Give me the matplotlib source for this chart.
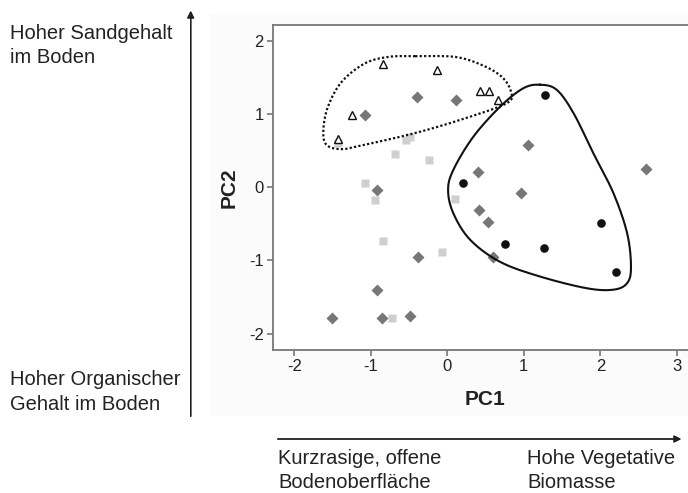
import numpy as np
import matplotlib.pyplot as plt
from matplotlib.patches import Rectangle

plt.rcParams['font.family'] = ['Liberation Sans', 'DejaVu Sans']
plt.rcParams['axes.unicode_minus'] = False

# PCA scores per site group
tri_x = [-0.84, -0.13, 0.43, 0.54, 0.66, -1.24, -1.43]
tri_y = [1.68, 1.60, 1.32, 1.31, 1.19, 0.99, 0.66]

dia_x = [-0.40, 0.11, -1.07, 1.05, 0.40, 2.60, 0.96, -0.92, 0.41, 0.53,
         0.60, -0.38, -0.92, -1.51, -0.85, -0.49]
dia_y = [1.23, 1.19, 0.99, 0.57, 0.21, 0.25, -0.08, -0.04, -0.31, -0.48,
         -0.95, -0.95, -1.40, -1.79, -1.79, -1.76]

circ_x = [1.27, 0.20, 0.75, 1.26, 2.01, 2.21]
circ_y = [1.26, 0.06, -0.78, -0.83, -0.49, -1.16]

sq_x = [-1.43, -0.54, -0.49, -0.68, -0.24, -1.07, -0.95, 0.10, -0.84, -0.07, -0.72]
sq_y = [0.60, 0.65, 0.68, 0.45, 0.37, 0.06, -0.17, -0.16, -0.74, -0.88, -1.79]

# hand-drawn group outlines (control points, data units)
sand_outline_x = [-0.42, 0.10, 0.45, 0.71, 0.83, 0.78, 0.23, -0.42, -1.08, -1.38,
                  -1.58, -1.62, -1.56, -1.38, -1.08, -0.77]
sand_outline_y = [1.79, 1.78, 1.67, 1.51, 1.31, 1.15, 0.94, 0.74, 0.58, 0.52,
                  0.58, 0.78, 1.10, 1.44, 1.69, 1.78]

bio_outline_x = [1.21, 1.43, 1.65, 1.91, 2.17, 2.35, 2.40, 2.35, 2.17, 1.82, 1.21,
                 0.69, 0.30, 0.08, 0.01, 0.08, 0.34, 0.69, 0.99]
bio_outline_y = [1.40, 1.33, 1.01, 0.46, -0.08, -0.63, -1.09, -1.31, -1.40, -1.38,
                 -1.22, -1.02, -0.72, -0.36, -0.04, 0.24, 0.69, 1.10, 1.35]


def closed_spline(xs, ys, n=30):
    # closed Catmull-Rom curve through the control points
    p = np.column_stack([xs, ys])
    m = len(p)
    t = np.linspace(0, 1, n, endpoint=False)[:, None]
    segs = []
    for i in range(m):
        p0, p1, p2, p3 = p[i - 1], p[i], p[(i + 1) % m], p[(i + 2) % m]
        segs.append(0.5 * (2 * p1 + (-p0 + p2) * t
                           + (2 * p0 - 5 * p1 + 4 * p2 - p3) * t ** 2
                           + (-p0 + 3 * p1 - 3 * p2 + p3) * t ** 3))
    c = np.vstack(segs + [p[0:1]])
    return c[:, 0], c[:, 1]


W, H = 688, 493
fig = plt.figure(figsize=(W / 100, H / 100), dpi=100)
fig.patches.append(Rectangle((210 / W, 1 - 415 / H), 1, 400 / H,
                             transform=fig.transFigure, color='#fbfbfb', zorder=-5))

ax = fig.add_axes([273 / W, 1 - 350 / H, 415 / W, 325 / H])
ax.set_facecolor('white')
ax.set_xlim(-2.278, 3.145)
ax.set_ylim(-2.224, 2.216)
ax.set_xticks([-2, -1, 0, 1, 2, 3])
ax.set_yticks([-2, -1, 0, 1, 2])
ax.spines['right'].set_visible(False)
for s in ['left', 'bottom', 'top']:
    ax.spines[s].set_color('#777777')
    ax.spines[s].set_linewidth(1.3)
ax.tick_params(colors='#777777', labelcolor='#222222', labelsize=12, length=4, width=1.2,
               pad=2.5)

ax.plot(sq_x, sq_y, 's', ms=6, color='#cfcfcf', mec='none')
ax.plot(dia_x, dia_y, 'D', ms=5.8, color='#777777', mec='none')
ax.plot(circ_x, circ_y, 'o', ms=6.2, color='#111111', mec='none')
ax.plot(tri_x, tri_y, '^', ms=6, mfc='white', mec='#111111', mew=1.0)

sx, sy = closed_spline(sand_outline_x, sand_outline_y)
ax.plot(sx, sy, color='#111111', lw=1.6, ls=(0, (1, 1)))
bx, by = closed_spline(bio_outline_x, bio_outline_y)
ax.plot(bx, by, color='#111111', lw=1.5)

ax.set_xlabel('PC1', fontsize=15, fontweight='bold', color='#222222')
ax.set_ylabel('PC2', fontsize=15, fontweight='bold', color='#222222')
ax.xaxis.set_label_coords(0.511, -0.123)
ax.yaxis.set_label_coords(-0.082, 0.498)

# gradient arrows
fig.add_artist(plt.annotate('', xy=(190.7 / W, 1 - 8 / H), xytext=(190.7 / W, 1 - 419 / H),
                            xycoords='figure fraction', textcoords='figure fraction',
                            arrowprops=dict(arrowstyle='-|>', color='#222222', lw=1.0,
                                            mutation_scale=10)))
fig.add_artist(plt.annotate('', xy=(684 / W, 1 - 439 / H), xytext=(275 / W, 1 - 439 / H),
                            xycoords='figure fraction', textcoords='figure fraction',
                            arrowprops=dict(arrowstyle='-|>', color='#222222', lw=1.0,
                                            mutation_scale=10)))

labels = [
    (10, 39, 'Hoher Sandgehalt'), (10, 63, 'im Boden'),
    (10, 385, 'Hoher Organischer'), (10, 410, 'Gehalt im Boden'),
    (278, 464, 'Kurzrasige, offene'), (278, 488, 'Bodenoberfläche'),
    (527, 464, 'Hohe Vegetative'), (527, 488, 'Biomasse'),
]
for px, py, txt in labels:
    fig.text(px / W, 1 - py / H, txt, fontsize=14.5, color='#222222', va='baseline')

fig.savefig('out.png', dpi=100)
